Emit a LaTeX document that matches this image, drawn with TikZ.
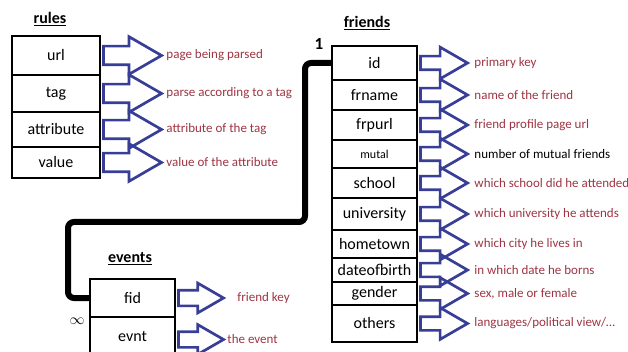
\documentclass[tikz,border=0pt]{standalone}
\usepackage{fontspec}
\setmainfont{Carlito}
\usetikzlibrary{positioning,shapes.arrows}
\definecolor{arrowblue}{RGB}{56,62,150}
\definecolor{notered}{RGB}{158,52,66}
\begin{document}
\begin{tikzpicture}[x=1pt, y=-1pt,
		field/.style={draw, line width=2.4pt, inner sep=0pt, font=\fontsize{16}{16}\selectfont},
		rulefield/.style={field, minimum width=88pt},
		friendfield/.style={field, minimum width=85pt},
		title/.style={font=\fontsize{16}{16}\selectfont\bfseries},
		blockarrow/.style={single arrow, draw=arrowblue, line width=2.7pt, inner sep=0pt,
			single arrow tip angle=60, minimum width=0pt},
		rulearrow/.style={blockarrow, minimum height=58pt, inner ysep=8pt, single arrow head extend=9.5pt},
		friendarrow/.style={blockarrow, minimum height=47pt, inner ysep=5.5pt, single arrow head extend=9pt},
		eventarrow/.style={blockarrow, minimum height=45pt, inner ysep=6.5pt, single arrow head extend=7pt},
		note/.style={font=\fontsize{13}{13}\selectfont, inner sep=0pt},
		link/.style={line width=6pt, rounded corners=6pt}]
	\useasboundingbox (0,0) rectangle (628,352);

	% rules
	\node [title] (rules) at (50,19) {\underline{rules}};
	\node [rulefield, minimum height=39pt] (url) at (56,55.5) {url};
	\node [rulefield, minimum height=37pt] (tag) at (56,93.5) {tag};
	\node [rulefield, minimum height=35pt] (attribute) at (56,129.5) {attribute};
	\node [rulefield, minimum height=31pt] (value) at (56,162.5) {value};

	\foreach \row/\text in {url/page being parsed, tag/parse according to a tag,
			attribute/attribute of the tag, value/value of the attribute}
		\node [rulearrow, right=1pt of \row] (a-\row) {}
			node [note, text=notered, right=2pt of a-\row] (n-\row) {\text};

	% friends
	\node [title] (friends) at (367,23) {\underline{friends}};
	\node [friendfield, minimum height=34pt] (id) at (374.5,63) {id};
	\node [friendfield, minimum height=30pt] (frname) at (374.5,95) {frname};
	\node [friendfield, minimum height=30pt] (frpurl) at (374.5,125) {frpurl};
	\node [friendfield, minimum height=28pt, font=\fontsize{12}{12}\selectfont] (mutal) at (374.5,154) {mutal};
	\node [friendfield, minimum height=30pt] (school) at (374.5,183) {school};
	\node [friendfield, minimum height=32pt] (university) at (374.5,214) {university};
	\node [friendfield, minimum height=28pt] (hometown) at (374.5,244) {hometown};
	\node [friendfield, minimum height=24pt] (dateofbirth) at (374.5,270) {dateofbirth};
	\node [friendfield, minimum height=23pt] (gender) at (374.5,293.5) {gender};
	\node [friendfield, minimum height=37pt] (others) at (374.5,323.5) {others};

	\foreach \row/\text/\col in {id/primary key/notered, frname/name of the friend/notered,
			frpurl/friend profile page url/notered, mutal/number of mutual friends/black,
			school/which school did he attended/notered, university/which university he attends/notered,
			hometown/which city he lives in/notered, dateofbirth/in which date he borns/notered,
			gender/{sex, male or female}/notered, others/languages\slash political view\slash\dots/notered}
		\node [friendarrow, right=1pt of \row] (a-\row) {}
			node [note, text=\col, right=4pt of a-\row] (n-\row) {\text};

	% events
	\node [title] (events) at (130,259) {\underline{events}};
	\node [friendfield, minimum height=38pt] (fid) at (132.5,298) {fid};
	\node [friendfield, minimum height=39pt] (evnt) at (132.5,336.5) {evnt};

	\node [eventarrow, right=1pt of fid] (a-fid) {};
	\node [note, text=notered, right=11pt of a-fid] (n-fid) {friend key};
	\node [eventarrow, right=1pt of evnt, yshift=-3pt] (a-evnt) {};
	\node [note, text=notered, right=1pt of a-evnt] (n-evnt) {the event};

	% relation friends.id -- events.fid
	\coordinate (turn1) at (305,222);
	\coordinate (turn2) at (68,222);
	\draw [link] (id.west) -| (turn1) -- (turn2) |- (fid.west);
	\node [font=\fontsize{17}{17}\selectfont\bfseries] (one) at (319,44) {1};
	\node [scale=1.5] (many) at (77,321) {$\infty$};
\end{tikzpicture}
\end{document}
